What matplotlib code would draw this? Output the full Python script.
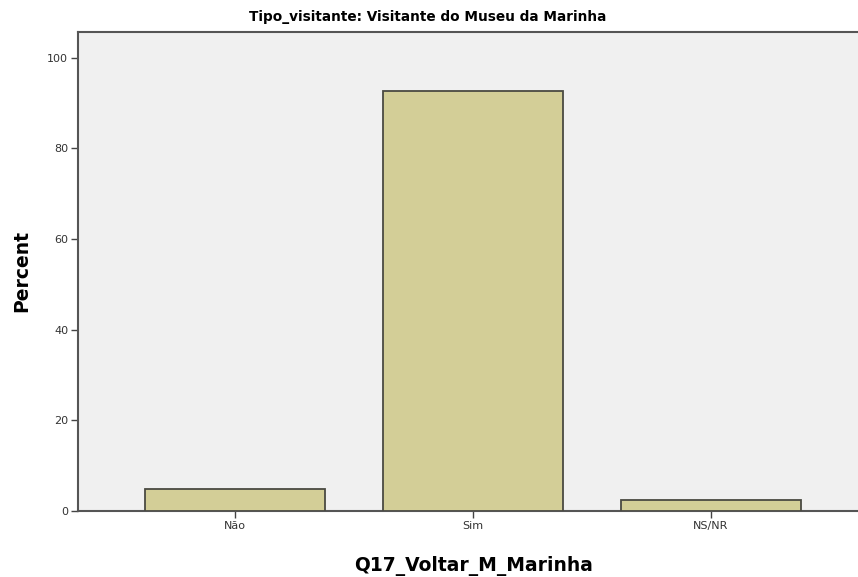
import matplotlib
matplotlib.use("Agg")
import matplotlib.pyplot as plt

categorias = ["Não", "Sim", "NS/NR"]
percentagens = [4.9, 92.7, 2.4]
yticks = [0, 20, 40, 60, 80, 100]

fig = plt.figure(figsize=(8.58, 5.77), dpi=100)
ax = fig.add_axes([78 / 858, 1 - 511 / 577, 790 / 858, 479 / 577])
ax.set_facecolor("#f0f0f0")

x = list(range(len(categorias)))
ax.bar(x, percentagens, width=0.754, color="#d3ce97", edgecolor="#4a4a42", linewidth=1.3, zorder=3)

ax.set_xlim(-0.66, 2.66)
ax.set_ylim(0, 105.7)
ax.set_xticks(x)
ax.set_xticklabels(categorias, fontsize=8, color="#333333")
ax.set_yticks(yticks)
ax.set_yticklabels([str(v) for v in yticks], fontsize=8, color="#333333")
ax.tick_params(axis="both", direction="out", length=5, width=1, color="#444444", pad=2)

for s in ax.spines.values():
    s.set_color("#555555")
    s.set_linewidth(1.5)

fig.text(474 / 858, 1 - 566 / 577, "Q17_Voltar_M_Marinha", ha="center", va="center",
         fontsize=13.5, fontweight="bold")
fig.text(22 / 858, 1 - 271 / 577, "Percent", ha="center", va="center", rotation=90,
         fontsize=13.5, fontweight="bold")
fig.text(428 / 858, 1 - 17 / 577, "Tipo_visitante: Visitante do Museu da Marinha", ha="center",
         va="center", fontsize=9.8, fontweight="bold")

fig.savefig("out.png", dpi=100)
